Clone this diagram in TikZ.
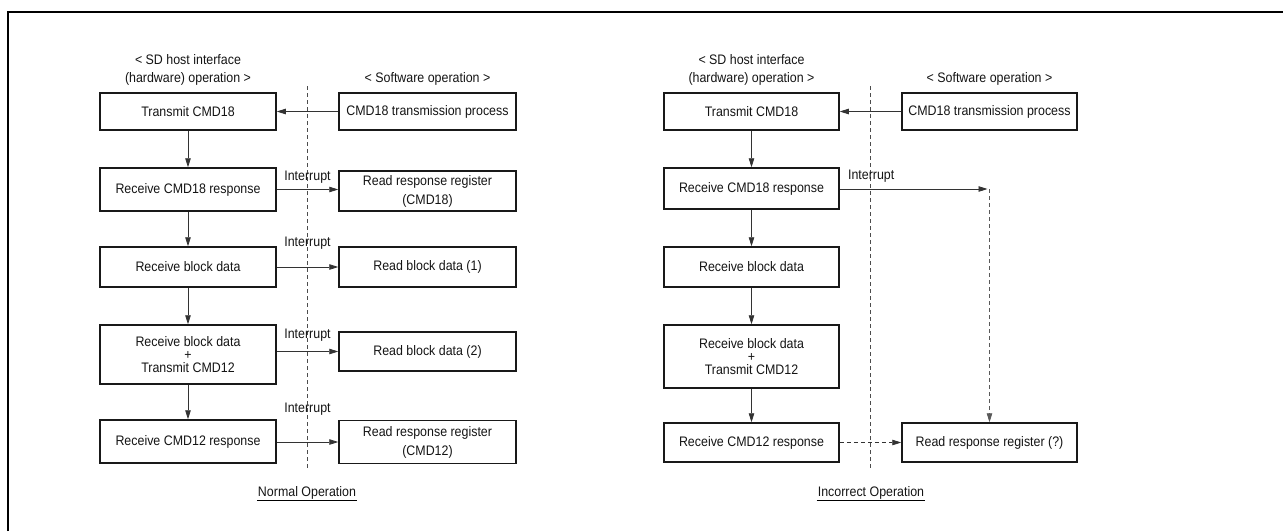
\documentclass[tikz,border=0pt]{standalone}
\usepackage{fontspec}
\setmainfont{Liberation Sans}[FakeStretch=0.9]
\usetikzlibrary{arrows.meta,positioning}

\begin{document}
\begin{tikzpicture}[
  x=1pt,y=-1pt,
  every node/.style={font=\fontsize{13.8}{16.5}\selectfont,text=black!92},
  hwbox/.style={draw=black!90,line width=1.5pt,minimum width=176pt,
                inner sep=0pt,align=center},
  swbox/.style={hwbox,minimum width=177pt},
  flow/.style={-{Triangle[length=9pt,width=5.5pt]},line width=0.8pt,draw=black!80},
  lateflow/.style={flow,dash pattern=on 4pt off 3pt},
  divider/.style={dash pattern=on 4pt off 3pt,line width=0.7pt,black!70},
  irq/.style={inner sep=1pt},
  caption/.style={inner xsep=1pt,inner ysep=1.5pt}
]
\useasboundingbox (0,0) rectangle (1283,531);
\draw[line width=2pt] (7.7,531) -- (7.7,12) -- (1283,12);

% normal operation
\node[align=center] (nhw) at (188,70)
  {< SD host interface\\[1.5pt](hardware) operation >};
\node (nsw) at (427.5,79) {< Software operation >};
\draw[divider] (307,86) -- (307,470);

\node[hwbox,minimum height=37pt] (nt1) at (188,111.5) {Transmit CMD18};
\node[hwbox,minimum height=43pt] (nr1) at (188,189.5) {Receive CMD18 response};
\node[hwbox,minimum height=40pt] (nb1) at (188,267) {Receive block data};
\node[hwbox,minimum height=59pt] (nb2) at (188,354.5)
  {Receive block data\\[-3.5pt]+\\[-3.5pt]Transmit CMD12};
\node[hwbox,minimum height=43pt] (nr2) at (188,441.5) {Receive CMD12 response};

\node[swbox,minimum height=37pt] (ns1) at (427.5,111.5) {CMD18 transmission process};
\node[swbox,minimum height=40pt] (ns2) at (427.5,191)
  {Read response register\\[2.5pt](CMD18)};
\node[swbox,minimum height=40pt] (ns3) at (427.5,267) {Read block data (1)};
\node[swbox,minimum height=39pt] (ns4) at (427.5,351.5) {Read block data (2)};
\node[swbox,minimum height=43pt] (ns5) at (427.5,442)
  {Read response register\\[2.5pt](CMD12)};

\draw[flow] (ns1) -- (nt1);
\draw[flow] (nt1) -- (nr1);
\draw[flow] (nr1) -- (nb1);
\draw[flow] (nb1) -- (nb2);
\draw[flow] (nb2) -- (nr2);
\draw[flow] (nr1.east) -- (nr1.east -| ns2.west)
  node[irq,midway,above=5pt] {Interrupt};
\draw[flow] (nb1) -- (ns3)
  node[irq,midway,above=16pt] {Interrupt};
\draw[flow] (nb2.east |- ns4) -- (ns4)
  node[irq,midway,above=9pt] {Interrupt};
\draw[flow] (nr2.east |- ns5) -- (ns5)
  node[irq,midway,above=25pt] {Interrupt};

\node[caption] (ncap) at (307,492.5) {Normal Operation};
\draw[line width=0.8pt] (ncap.south west) -- (ncap.south east);

% incorrect operation
\node[align=center] (ihw) at (751.5,70)
  {< SD host interface\\[1.5pt](hardware) operation >};
\node (isw) at (989.5,79) {< Software operation >};
\draw[divider] (870,86) -- (870,470);

\node[hwbox,minimum width=175pt,minimum height=37pt] (it1) at (751.5,111.5) {Transmit CMD18};
\node[hwbox,minimum width=175pt,minimum height=41pt] (ir1) at (751.5,188.5) {Receive CMD18 response};
\node[hwbox,minimum width=175pt,minimum height=40pt] (ib1) at (751.5,267) {Receive block data};
\node[hwbox,minimum width=175pt,minimum height=63pt] (ib2) at (751.5,356.5)
  {Receive block data\\[-3.5pt]+\\[-3.5pt]Transmit CMD12};
\node[hwbox,minimum width=175pt,minimum height=39pt] (ir2) at (751.5,442.5) {Receive CMD12 response};

\node[swbox,minimum width=175pt,minimum height=37pt] (is1) at (989.5,111.5) {CMD18 transmission process};
\node[swbox,minimum width=175pt,minimum height=39pt] (is5) at (989.5,442.5) {Read response register (?)};
\coordinate (iq) at (989.5,189);

\draw[flow] (is1) -- (it1);
\draw[flow] (it1) -- (ir1);
\draw[flow] (ir1) -- (ib1);
\draw[flow] (ib1) -- (ib2);
\draw[flow] (ib2) -- (ir2);
\draw[flow,shorten >=2pt] (ir1.east |- iq) -- (iq)
  node[irq,pos=0.21,above=5pt] {Interrupt};
\draw[lateflow,draw=black!65] (iq) -- (is5);
\draw[lateflow] (ir2) -- (is5);

\node[caption] (icap) at (871,492.5) {Incorrect Operation};
\draw[line width=0.8pt] (icap.south west) -- (icap.south east);
\end{tikzpicture}
\end{document}
